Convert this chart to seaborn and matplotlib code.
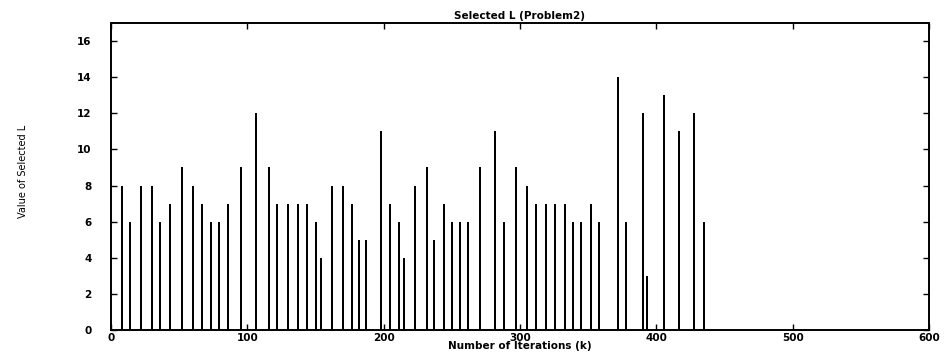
import matplotlib
matplotlib.use("Agg")
import matplotlib.pyplot as plt
import seaborn as sns
import pandas as pd
import numpy as np

# Data
iterations = [8, 14, 22, 30, 36, 43, 52, 60, 67, 73, 79, 86, 95, 106, 116, 122, 130, 137,
              144, 150, 154, 162, 170, 177, 182, 187, 198, 205, 211, 215, 223, 232, 237, 244,
              250, 256, 262, 271, 282, 288, 297, 305, 312, 319, 326, 333, 339, 345, 352, 358,
              372, 378, 390, 393, 406, 417, 428, 435]
selected_L = [8, 6, 8, 8, 6, 7, 9, 8, 7, 6, 6, 7, 9, 12, 9, 7, 7, 7, 7, 6, 4, 8, 8, 7, 5, 5,
              11, 7, 6, 4, 8, 9, 5, 7, 6, 6, 6, 9, 11, 6, 9, 8, 7, 7, 7, 7, 6, 6, 7, 6, 14, 6,
              12, 3, 13, 11, 12, 6]
x_ticks = [0, 100, 200, 300, 400, 500, 600]
y_ticks = [0, 2, 4, 6, 8, 10, 12, 14, 16]

title = "Selected L (Problem2)"
xlabel = "Number of Iterations (k)"
ylabel = "Value of Selected L"

sns.set_style("ticks")
plt.rcParams['font.family'] = ['DejaVu Sans']
plt.rcParams['text.color'] = 'black'
plt.rcParams['axes.labelcolor'] = 'black'

df = pd.DataFrame({"k": iterations, "L": selected_L})

fig = plt.figure(figsize=(9.45, 3.58), dpi=100)
ax = fig.add_axes([0.1175, 0.078, 0.8655, 0.858])

# near-zero-width bars whose outline forms a uniform stem
sns.barplot(data=df, x="k", y="L", native_scale=True, width=0.001, color="black",
            edgecolor="black", linewidth=1.44, errorbar=None, ax=ax, saturation=1)
for p in ax.patches:
    p.set_snap(True)

ax.set_xlim(0, 600)
ax.set_ylim(0, 17)
ax.set_xticks(x_ticks)
ax.set_yticks(y_ticks)
ax.set_xticklabels([str(t) for t in x_ticks], fontsize=7.5, fontweight="bold")
ax.set_yticklabels([str(t) for t in y_ticks], fontsize=7.5, fontweight="bold")
ax.tick_params(axis="both", direction="in", length=4, width=1, colors="black",
               top=True, right=True)
ax.tick_params(axis="y", pad=14)
ax.tick_params(axis="x", pad=2)
for s in ax.spines.values():
    s.set_visible(True)
    s.set_linewidth(1.4)
    s.set_color("black")

ax.set_title(title, fontsize=7.5, fontweight="bold", pad=3, color="black")
ax.set_xlabel(xlabel, fontsize=7.5, fontweight="bold", labelpad=-1, color="black")
ax.set_ylabel("")
fig.text(0.024, 0.52, ylabel, rotation=90, ha="center", va="center", fontsize=7,
         color="black", family=["Liberation Sans Narrow", "DejaVu Sans"])

fig.savefig("out.png", dpi=100)
